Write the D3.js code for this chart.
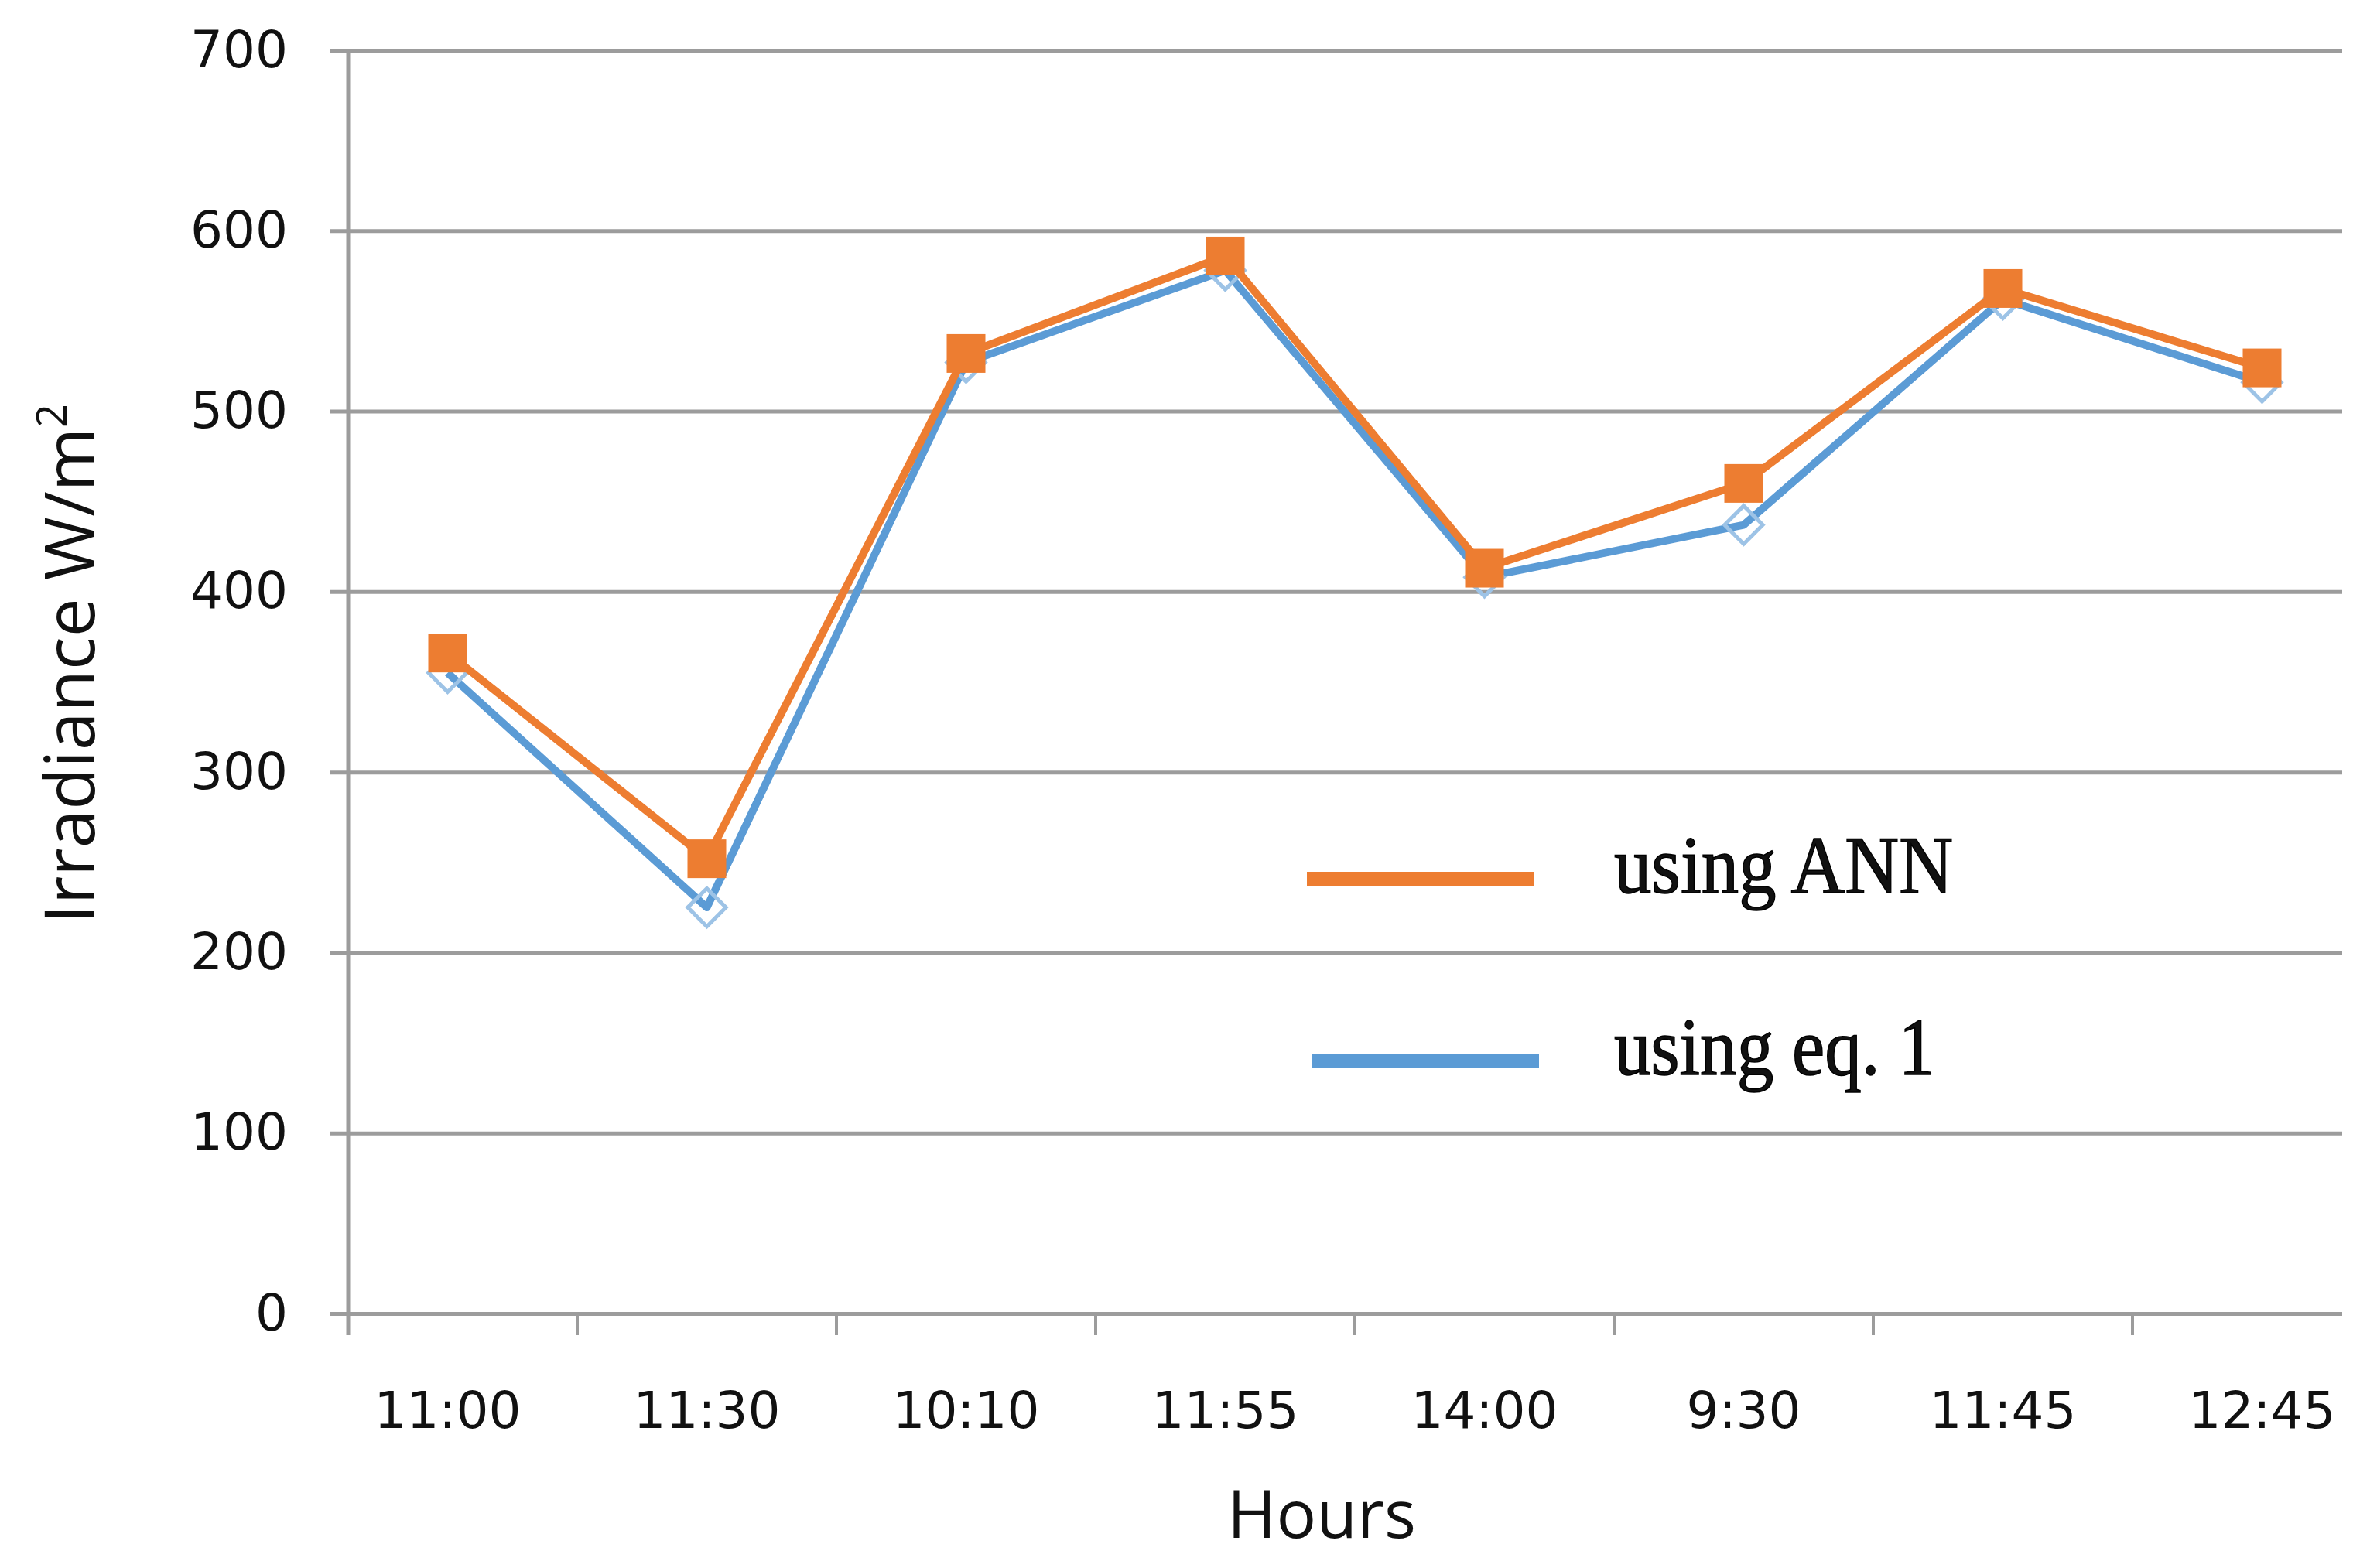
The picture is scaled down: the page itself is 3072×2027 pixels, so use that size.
<!DOCTYPE html>
<html>
<head>
<meta charset="utf-8">
<script src="https://cdn.jsdelivr.net/npm/d3@7"></script>
<style>
  body { margin: 0; background: #fff; }
  text { font-family: "Open Sans", sans-serif; fill: #111; }
</style>
</head>
<body>
<div class="chart"></div>
<script>
// Data
var hours = ["11:00", "11:30", "10:10", "11:55", "14:00", "9:30", "11:45", "12:45"];
var annValues = [366, 252, 532, 586, 413, 460, 568, 524];
var eqValues = [355, 225, 527, 578, 408, 437, 562, 516];
var yTicks = [0, 100, 200, 300, 400, 500, 600, 700];
var seriesNames = ["using ANN", "using eq. 1"];

var svgWidth = 3072;
var svgHeight = 2027;

var axisX = 450;      // where the vertical axis sits
var plotRight = 3027; // gridlines stop here
var plotTop = 65;
var plotBottom = 1698;

var orange = "#ED7D31";
var blue = "#5B9BD5";
var gridColor = "#9c9c9c";
var tickFont = "'DejaVu Sans', sans-serif";

var svg = d3.select(".chart")
  .append("svg")
  .attr("width", svgWidth)
  .attr("height", svgHeight);

// category bands run a little wider than the visible plot (cropped original)
var xScale = d3.scaleBand()
  .domain(hours)
  .range([411, 3091]);

var yScale = d3.scaleLinear()
  .domain([0, 700])
  .range([plotBottom, plotTop]);

//__________________________________________________________________________________
// gridlines + y tick labels
var leftAxis = d3.axisLeft(yScale)
  .tickValues(yTicks)
  .tickSize(-(plotRight - axisX))
  .tickSizeOuter(0)
  .tickPadding(78);

var yAxis = svg.append("g")
  .attr("transform", `translate(${axisX}, 0)`)
  .call(leftAxis);

yAxis.select(".domain").remove();
yAxis.selectAll(".tick line")
  .attr("x1", -23)
  .attr("stroke", gridColor)
  .attr("stroke-width", 5);
yAxis.selectAll(".tick text")
  .style("font-family", tickFont)
  .style("font-size", "66px")
  .attr("fill", "#111");

// vertical axis line
svg.append("line")
  .attr("x1", axisX).attr("x2", axisX)
  .attr("y1", plotTop).attr("y2", plotBottom + 28)
  .attr("stroke", gridColor)
  .attr("stroke-width", 5);

// x axis ticks at the category edges
var edgeTicks = hours.slice(1).map(d => xScale(d));
svg.append("g")
  .selectAll("line")
  .data(edgeTicks)
  .enter()
  .append("line")
  .attr("x1", d => d).attr("x2", d => d)
  .attr("y1", plotBottom).attr("y2", plotBottom + 28)
  .attr("stroke", gridColor)
  .attr("stroke-width", 4);

// x labels
svg.append("g")
  .selectAll("text")
  .data(hours)
  .enter()
  .append("text")
  .attr("x", d => xScale(d) + xScale.bandwidth() / 2)
  .attr("y", 1846)
  .attr("text-anchor", "middle")
  .style("font-family", tickFont)
  .style("font-size", "66px")
  .text(d => d);

//__________________________________________________________________________________
// series lines
var line = d3.line()
  .x((d, i) => xScale(hours[i]) + xScale.bandwidth() / 2)
  .y(d => yScale(d));

svg.append("path")
  .datum(eqValues)
  .attr("d", line)
  .attr("fill", "none")
  .attr("stroke", blue)
  .attr("stroke-width", 10)
  .attr("stroke-linejoin", "round");

// hollow diamonds for eq. 1
var diamond = d3.symbol().type(d3.symbolDiamond2).size(1550);
svg.append("g")
  .selectAll("path")
  .data(eqValues)
  .enter()
  .append("path")
  .attr("d", diamond)
  .attr("transform", (d, i) => `translate(${xScale(hours[i]) + xScale.bandwidth() / 2}, ${yScale(d)})`)
  .attr("fill", "none")
  .attr("stroke", "#9dc3e6")
  .attr("stroke-width", 5);

svg.append("path")
  .datum(annValues)
  .attr("d", line)
  .attr("fill", "none")
  .attr("stroke", orange)
  .attr("stroke-width", 10)
  .attr("stroke-linejoin", "round");

// filled squares for ANN
var sq = 50;
svg.append("g")
  .selectAll("rect")
  .data(annValues)
  .enter()
  .append("rect")
  .attr("x", (d, i) => xScale(hours[i]) + xScale.bandwidth() / 2 - sq / 2)
  .attr("y", d => yScale(d) - sq / 2)
  .attr("width", sq)
  .attr("height", sq)
  .attr("fill", orange);

//__________________________________________________________________________________
// legend inside the plot
var legendColors = [orange, blue];
var legendY = [1136, 1371];
var legend = svg.append("g");

legend.selectAll("line")
  .data(seriesNames)
  .enter()
  .append("line")
  .attr("x1", (d, i) => 1689 + i * 6)
  .attr("x2", (d, i) => 1983 + i * 6)
  .attr("y1", (d, i) => legendY[i])
  .attr("y2", (d, i) => legendY[i])
  .attr("stroke", (d, i) => legendColors[i])
  .attr("stroke-width", 18);

legend.selectAll("text")
  .data(seriesNames)
  .enter()
  .append("text")
  .attr("x", 2086)
  .attr("y", (d, i) => legendY[i] + 18)
  .attr("textLength", (d, i) => i === 0 ? 438 : 415)
  .attr("lengthAdjust", "spacingAndGlyphs")
  .style("font-family", "'Liberation Serif', serif")
  .style("font-size", "106px")
  .attr("fill", "#000")
  .attr("stroke", "#000")
  .attr("stroke-width", 1.5)
  .text(d => d);

//__________________________________________________________________________________
// axis titles
svg.append("text")
  .attr("x", 1708)
  .attr("y", 1988)
  .attr("text-anchor", "middle")
  .style("font-size", "86px")
  .text("Hours");

var yTitle = svg.append("text")
  .attr("transform", "translate(122, 858) rotate(-90)")
  .attr("text-anchor", "middle")
  .style("font-size", "89px");

yTitle.append("tspan").text("Irradiance W/m");
yTitle.append("tspan")
  .attr("dy", -36)
  .style("font-size", "54px")
  .text("2");
</script>
</body>
</html>
